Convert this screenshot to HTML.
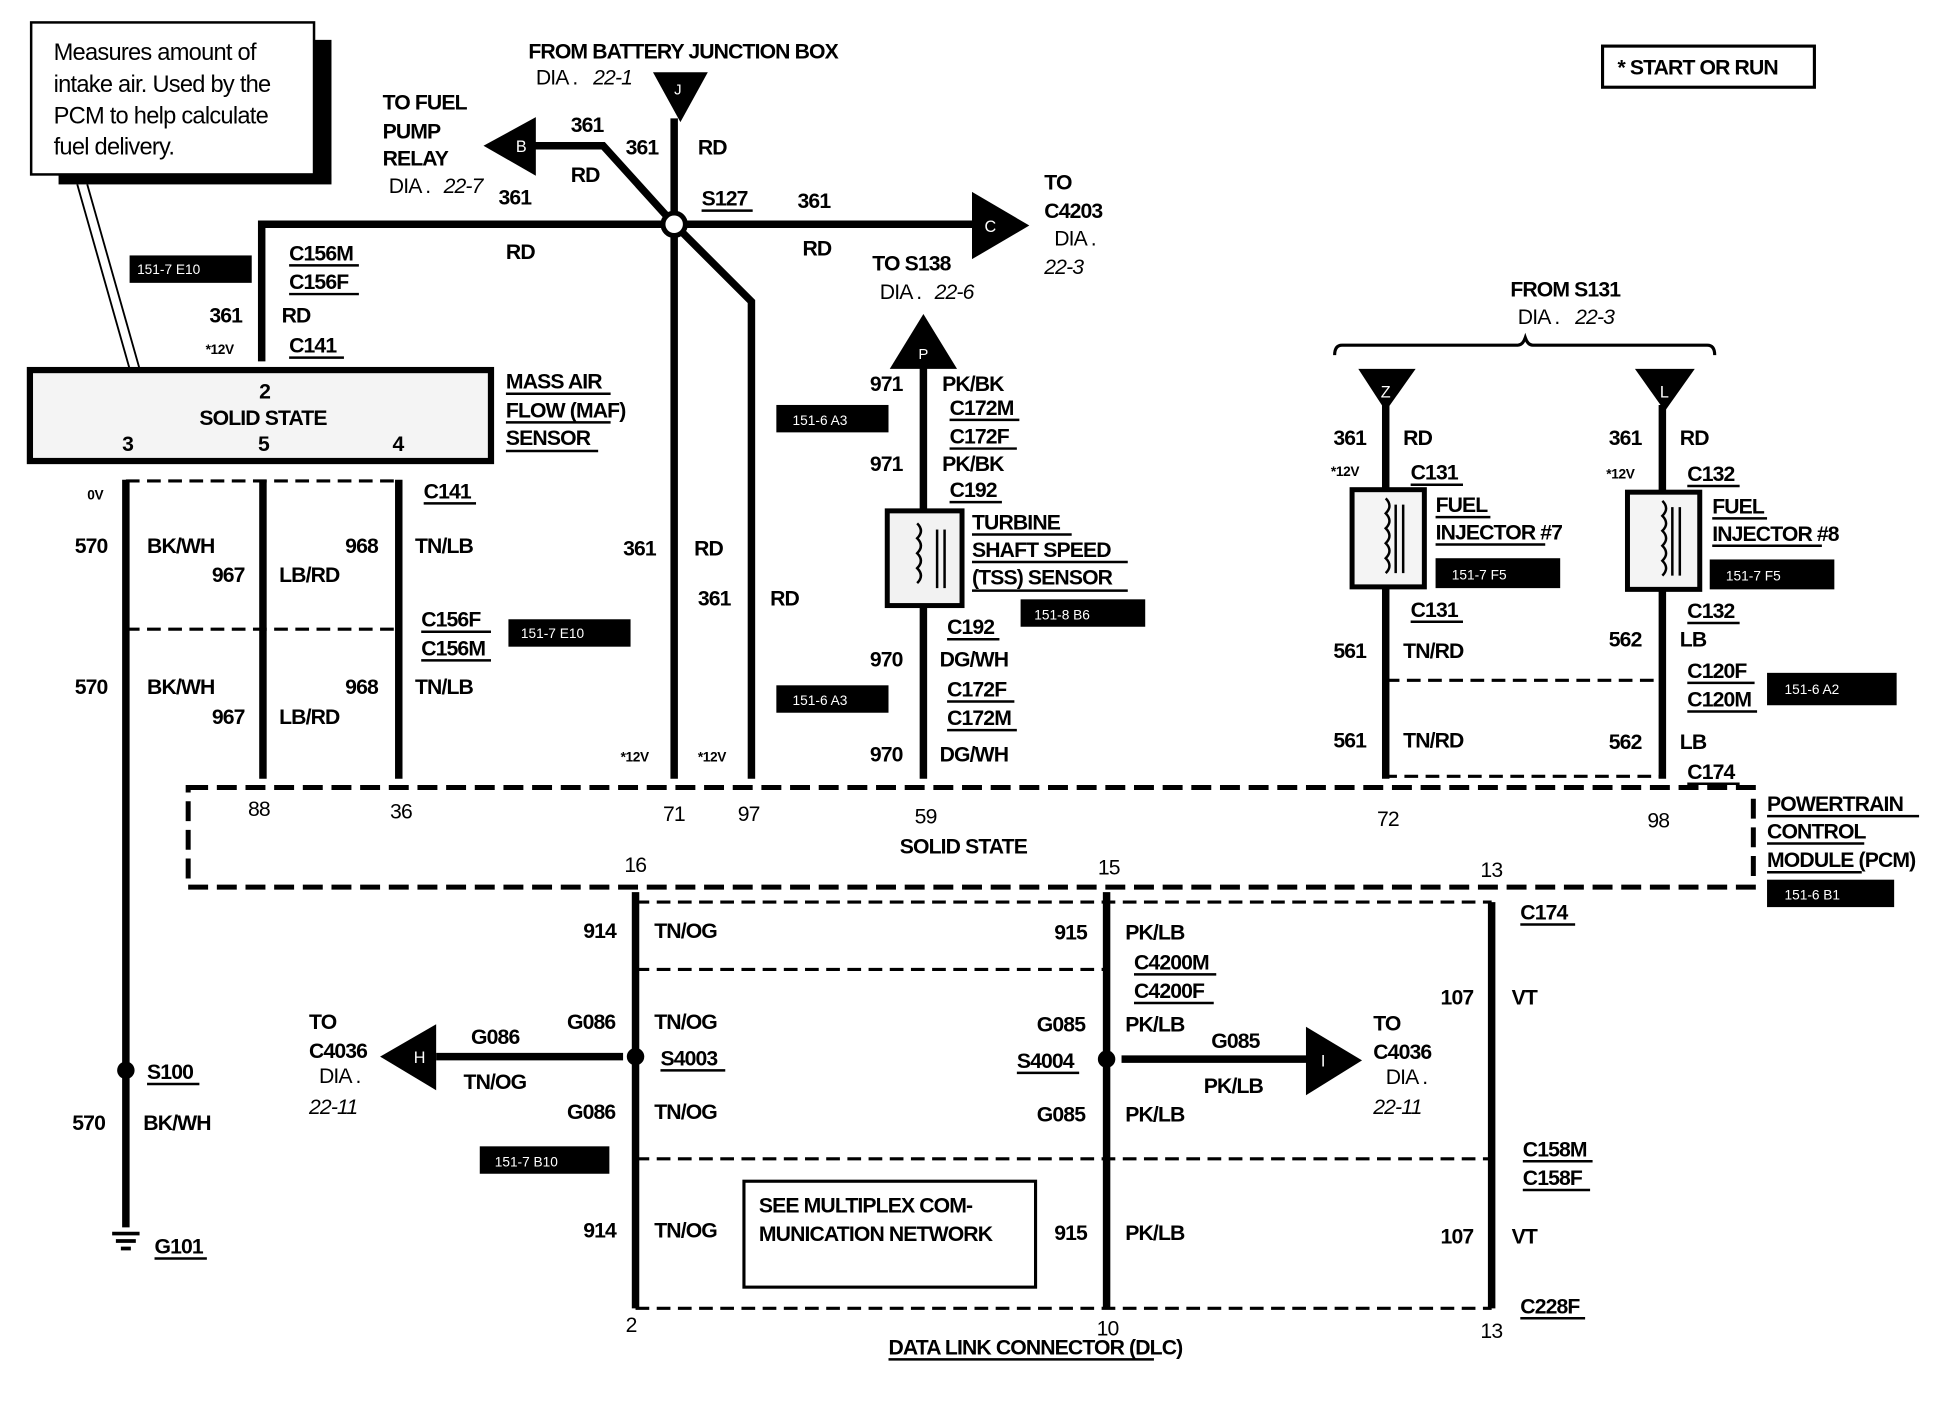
<!DOCTYPE html>
<html><head><meta charset="utf-8"><style>
html,body{margin:0;padding:0;background:#fff;width:1944px;height:1408px;overflow:hidden}
svg{display:block}
text{font-family:"Liberation Sans",Arial,sans-serif;font-weight:bold;font-size:17px;letter-spacing:-0.7px;fill:#000}
.n{font-weight:normal;font-size:19px;letter-spacing:-0.6px}
.s{font-size:11px;letter-spacing:-0.3px}
.it{font-style:italic;font-weight:normal}
.w{fill:#fff;font-weight:normal;font-size:11px;letter-spacing:0}
.wire{stroke:#000;stroke-width:6;fill:none}
.thin{stroke:#000;stroke-width:1.5;fill:none}
.dash{stroke:#000;stroke-width:2.5;stroke-dasharray:11 6;fill:none}
.pcm{stroke:#000;stroke-width:4;stroke-dasharray:16 7;fill:none}
.ul{stroke:#000;stroke-width:2}
</style></head><body>
<svg width="1944" height="1408" viewBox="0 0 1560 1130" preserveAspectRatio="none" xmlns="http://www.w3.org/2000/svg">
<rect width="1560" height="1130" fill="#fff"/>
<rect x="252" y="32" width="14" height="115" fill="#000"/>
<rect x="47" y="140" width="219" height="8" fill="#000"/>
<rect x="25" y="18" width="227" height="122" fill="#fff" stroke="#000" stroke-width="2"/>
<text class="n" x="43" y="48">Measures amount of</text>
<text class="n" x="43" y="74">intake air. Used by the</text>
<text class="n" x="43" y="99">PCM to help calculate</text>
<text class="n" x="43" y="124">fuel delivery.</text>
<line class="thin" x1="62" y1="148" x2="104" y2="296"/>
<line class="thin" x1="70" y1="148" x2="112" y2="296"/>
<rect x="1286" y="37" width="170" height="33" fill="#fff" stroke="#000" stroke-width="2.5"/>
<text x="1298" y="60">* START OR RUN</text>

<text x="424" y="47">FROM BATTERY JUNCTION BOX</text>
<text x="430" y="68" style="font-weight:normal">DIA .</text><text class="it" x="476" y="68">22-1</text>
<polygon points="524,58 568,58 546,98" fill="#000"/>
<text class="w" x="541" y="76" style="font-size:12px">J</text>
<line class="wire" x1="541" y1="95" x2="541" y2="625"/>
<polyline class="wire" points="541,180 484,117 418,117"/>
<polygon points="388,117 430,94 430,141" fill="#000"/>
<text class="w" x="414" y="122" style="font-size:13px">B</text>
<polyline class="wire" points="210,290 210,180 780,180"/>
<polygon points="826,181 780,154 780,208" fill="#000"/>
<text class="w" x="790" y="186" style="font-size:13px">C</text>
<polyline class="wire" points="541,180 603,242 603,625"/>
<circle cx="541" cy="180" r="9" fill="#fff" stroke="#000" stroke-width="4"/>
<text x="307" y="88">TO FUEL</text><text x="307" y="111">PUMP</text><text x="307" y="133">RELAY</text>
<text x="312" y="155" style="font-weight:normal">DIA .</text><text class="it" x="356" y="155">22-7</text>
<text x="400" y="164">361</text>
<text x="458" y="106">361</text><text x="458" y="146">RD</text>
<text x="502" y="124">361</text><text x="560" y="124">RD</text>
<text x="563" y="165">S127</text><line class="ul" x1="563" y1="169" x2="604" y2="169"/>
<text x="640" y="167">361</text><text x="644" y="205">RD</text>
<text x="406" y="208">RD</text>
<text x="838" y="152">TO</text><text x="838" y="175">C4203</text>
<text x="846" y="197" style="font-weight:normal">DIA .</text><text class="it" x="838" y="220">22-3</text>
<rect x="104" y="205" width="98" height="22" fill="#000"/><text class="w" x="110" y="220">151-7 E10</text>
<text x="232" y="209">C156M</text><line class="ul" x1="232" y1="213" x2="288" y2="213"/>
<text x="232" y="232">C156F</text><line class="ul" x1="232" y1="236" x2="288" y2="236"/>
<text x="168" y="259">361</text><text x="226" y="259">RD</text>
<text class="s" x="165" y="284">*12V</text>
<text x="232" y="283">C141</text><line class="ul" x1="232" y1="287" x2="276" y2="287"/>
<rect x="24" y="297" width="370" height="73" fill="#f4f4f4" stroke="#000" stroke-width="5"/>
<text x="208" y="320">2</text><text x="160" y="341">SOLID STATE</text>
<text x="98" y="362">3</text><text x="207" y="362">5</text><text x="315" y="362">4</text>
<text x="406" y="312">MASS AIR</text><text x="406" y="335">FLOW (MAF)</text><text x="406" y="357">SENSOR</text>
<line class="ul" x1="406" y1="316" x2="490" y2="316"/><line class="ul" x1="406" y1="339" x2="490" y2="339"/><line class="ul" x1="406" y1="362" x2="480" y2="362"/>
<line class="wire" x1="101" y1="385" x2="101" y2="985"/>
<line class="wire" x1="211" y1="385" x2="211" y2="625"/>
<line class="wire" x1="320" y1="385" x2="320" y2="625"/>
<line class="dash" x1="101" y1="386" x2="320" y2="386"/>
<line class="dash" x1="101" y1="505" x2="320" y2="505"/>
<text class="s" x="70" y="401">0V</text>
<text x="340" y="400">C141</text><line class="ul" x1="340" y1="404" x2="382" y2="404"/>
<text x="60" y="444">570</text><text x="118" y="444">BK/WH</text>
<text x="277" y="444">968</text><text x="333" y="444">TN/LB</text>
<text x="170" y="467">967</text><text x="224" y="467">LB/RD</text>
<text x="338" y="503">C156F</text><line class="ul" x1="338" y1="507" x2="394" y2="507"/>
<text x="338" y="526">C156M</text><line class="ul" x1="338" y1="530" x2="394" y2="530"/>
<rect x="408" y="497" width="98" height="22" fill="#000"/><text class="w" x="418" y="512">151-7 E10</text>
<text x="60" y="557">570</text><text x="118" y="557">BK/WH</text>
<text x="277" y="557">968</text><text x="333" y="557">TN/LB</text>
<text x="170" y="581">967</text><text x="224" y="581">LB/RD</text>
<text x="500" y="446">361</text><text x="557" y="446">RD</text>
<text x="560" y="486">361</text><text x="618" y="486">RD</text>
<text class="s" x="498" y="611">*12V</text><text class="s" x="560" y="611">*12V</text>
<text x="700" y="217">TO S138</text>
<text x="706" y="240" style="font-weight:normal">DIA .</text><text class="it" x="750" y="240">22-6</text>
<polygon points="741,252 768,296 714,296" fill="#000"/><text class="w" x="737" y="288" style="font-size:12px">P</text>
<line class="wire" x1="741" y1="295" x2="741" y2="625"/>
<rect x="623" y="325" width="90" height="22" fill="#000"/><text class="w" x="636" y="341">151-6 A3</text>
<text x="698" y="314">971</text><text x="756" y="314">PK/BK</text>
<text x="762" y="333">C172M</text><line class="ul" x1="762" y1="337" x2="818" y2="337"/>
<text x="762" y="356">C172F</text><line class="ul" x1="762" y1="360" x2="816" y2="360"/>
<text x="698" y="378">971</text><text x="756" y="378">PK/BK</text>
<text x="762" y="399">C192</text><line class="ul" x1="762" y1="403" x2="804" y2="403"/>
<rect x="712" y="410" width="60" height="76" fill="#f2f2f2" stroke="#000" stroke-width="4"/>
<path d="M736,420 q6,6 0,12 q6,6 0,12 q6,6 0,12 q6,6 0,12" stroke="#000" stroke-width="2" fill="none"/>
<line x1="752" y1="425" x2="752" y2="472" stroke="#000" stroke-width="2"/><line x1="758" y1="425" x2="758" y2="472" stroke="#000" stroke-width="2"/>
<text x="780" y="425">TURBINE</text><text x="780" y="447">SHAFT SPEED</text><text x="780" y="469">(TSS) SENSOR</text>
<line class="ul" x1="780" y1="429" x2="860" y2="429"/><line class="ul" x1="780" y1="451" x2="905" y2="451"/><line class="ul" x1="780" y1="474" x2="905" y2="474"/>
<rect x="819" y="481" width="100" height="22" fill="#000"/><text class="w" x="830" y="497">151-8 B6</text>
<text x="760" y="509">C192</text><line class="ul" x1="760" y1="513" x2="802" y2="513"/>
<text x="698" y="535">970</text><text x="754" y="535">DG/WH</text>
<rect x="623" y="550" width="90" height="22" fill="#000"/><text class="w" x="636" y="566">151-6 A3</text>
<text x="760" y="559">C172F</text><line class="ul" x1="760" y1="563" x2="814" y2="563"/>
<text x="760" y="582">C172M</text><line class="ul" x1="760" y1="586" x2="816" y2="586"/>
<text x="698" y="611">970</text><text x="754" y="611">DG/WH</text>
<text x="1212" y="238">FROM S131</text>
<text x="1218" y="260" style="font-weight:normal">DIA .</text><text class="it" x="1264" y="260">22-3</text>
<path d="M1071,285 q0,-8 6,-8 L1218,277 q4,0 6,-6 q2,6 6,6 L1370,277 q6,0 6,8" stroke="#000" stroke-width="2.5" fill="none"/>
<polygon points="1090,296 1136,296 1112,330" fill="#000"/><text class="w" x="1108" y="319" style="font-size:13px">Z</text>
<polygon points="1312,296 1360,296 1336,330" fill="#000"/><text class="w" x="1332" y="319" style="font-size:13px">L</text>
<line class="wire" x1="1112" y1="325" x2="1112" y2="625"/>
<line class="wire" x1="1334" y1="325" x2="1334" y2="625"/>
<rect x="1085" y="393" width="58" height="78" fill="#f4f4f4" stroke="#000" stroke-width="4"/>
<rect x="1306" y="395" width="58" height="78" fill="#f4f4f4" stroke="#000" stroke-width="4"/>
<path d="M1112,400 q6,6 0,12 q6,6 0,12 q6,6 0,12 q6,6 0,12 q6,6 0,12 M1334,402 q6,6 0,12 q6,6 0,12 q6,6 0,12 q6,6 0,12 q6,6 0,12" stroke="#000" stroke-width="2" fill="none"/>
<path d="M1120,405v55M1126,405v55M1342,407v55M1348,407v55" stroke="#000" stroke-width="2"/>
<text x="1070" y="357">361</text><text x="1126" y="357">RD</text>
<text x="1291" y="357">361</text><text x="1348" y="357">RD</text>
<text class="s" x="1068" y="382">*12V</text><text class="s" x="1289" y="384">*12V</text>
<text x="1132" y="385">C131</text><line class="ul" x1="1132" y1="389" x2="1174" y2="389"/>
<text x="1354" y="386">C132</text><line class="ul" x1="1354" y1="390" x2="1396" y2="390"/>
<text x="1152" y="411">FUEL</text><text x="1152" y="433">INJECTOR #7</text>
<line class="ul" x1="1152" y1="415" x2="1196" y2="415"/><line class="ul" x1="1152" y1="437" x2="1240" y2="437"/>
<text x="1374" y="412">FUEL</text><text x="1374" y="434">INJECTOR #8</text>
<line class="ul" x1="1374" y1="416" x2="1418" y2="416"/><line class="ul" x1="1374" y1="438" x2="1462" y2="438"/>
<rect x="1152" y="448" width="100" height="24" fill="#000"/><text class="w" x="1165" y="465">151-7 F5</text>
<rect x="1372" y="449" width="100" height="24" fill="#000"/><text class="w" x="1385" y="466">151-7 F5</text>
<text x="1132" y="495">C131</text><line class="ul" x1="1132" y1="499" x2="1174" y2="499"/>
<text x="1354" y="496">C132</text><line class="ul" x1="1354" y1="500" x2="1396" y2="500"/>
<text x="1070" y="528">561</text><text x="1126" y="528">TN/RD</text>
<text x="1291" y="519">562</text><text x="1348" y="519">LB</text>
<line class="dash" x1="1112" y1="546" x2="1334" y2="546"/>
<text x="1354" y="544">C120F</text><line class="ul" x1="1354" y1="548" x2="1408" y2="548"/>
<text x="1354" y="567">C120M</text><line class="ul" x1="1354" y1="571" x2="1410" y2="571"/>
<rect x="1418" y="540" width="104" height="26" fill="#000"/><text class="w" x="1432" y="557">151-6 A2</text>
<text x="1070" y="600">561</text><text x="1126" y="600">TN/RD</text>
<text x="1291" y="601">562</text><text x="1348" y="601">LB</text>
<text x="1354" y="625">C174</text><line class="ul" x1="1354" y1="629" x2="1396" y2="629"/>
<line class="dash" x1="1110" y1="623" x2="1334" y2="623"/>
<rect x="151" y="632" width="1256" height="80" class="pcm"/>
<text x="199" y="655" style="font-weight:normal">88</text><text x="313" y="657" style="font-weight:normal">36</text>
<text x="532" y="659" style="font-weight:normal">71</text><text x="592" y="659" style="font-weight:normal">97</text>
<text x="734" y="661" style="font-weight:normal">59</text><text x="1105" y="663" style="font-weight:normal">72</text>
<text x="1322" y="664" style="font-weight:normal">98</text>
<text x="722" y="685">SOLID STATE</text>
<text x="501" y="700" style="font-weight:normal">16</text><text x="881" y="702" style="font-weight:normal">15</text>
<text x="1188" y="704" style="font-weight:normal">13</text>
<text x="1418" y="651">POWERTRAIN</text><text x="1418" y="673">CONTROL</text><text x="1418" y="696">MODULE (PCM)</text>
<line class="ul" x1="1418" y1="655" x2="1540" y2="655"/><line class="ul" x1="1418" y1="677" x2="1496" y2="677"/><line class="ul" x1="1418" y1="700" x2="1494" y2="700"/>
<rect x="1418" y="706" width="102" height="22" fill="#000"/><text class="w" x="1432" y="722">151-6 B1</text>
<line class="wire" x1="510" y1="716" x2="510" y2="1050"/>
<line class="wire" x1="888" y1="716" x2="888" y2="1050"/>
<line class="wire" x1="1197" y1="724" x2="1197" y2="1050"/>
<line class="dash" x1="510" y1="724" x2="1197" y2="724"/>
<line class="dash" x1="510" y1="778" x2="888" y2="778"/>
<line class="dash" x1="510" y1="930" x2="1197" y2="930"/>
<line class="dash" x1="510" y1="1050" x2="1197" y2="1050"/>
<text x="1220" y="738">C174</text><line class="ul" x1="1220" y1="742" x2="1264" y2="742"/>
<text x="468" y="753">914</text><text x="525" y="753">TN/OG</text>
<text x="846" y="754">915</text><text x="903" y="754">PK/LB</text>
<text x="910" y="778">C4200M</text><line class="ul" x1="910" y1="782" x2="976" y2="782"/>
<text x="910" y="801">C4200F</text><line class="ul" x1="910" y1="805" x2="974" y2="805"/>
<text x="1156" y="806">107</text><text x="1213" y="806">VT</text>
<text x="455" y="826">G086</text><text x="525" y="826">TN/OG</text>
<text x="832" y="828">G085</text><text x="903" y="828">PK/LB</text>
<line class="wire" x1="500" y1="848" x2="350" y2="848"/>
<polygon points="305,848 350,822 350,875" fill="#000"/><text class="w" x="332" y="853" style="font-size:13px">H</text>
<circle cx="510" cy="848" r="7" fill="#000"/>
<text x="378" y="838">G086</text><text x="372" y="874">TN/OG</text>
<text x="530" y="855">S4003</text><line class="ul" x1="530" y1="859" x2="582" y2="859"/>
<text x="248" y="826">TO</text><text x="248" y="849">C4036</text>
<text x="256" y="869" style="font-weight:normal">DIA .</text><text class="it" x="248" y="894">22-11</text>
<line class="wire" x1="900" y1="850" x2="1050" y2="850"/>
<polygon points="1093,851 1048,824 1048,879" fill="#000"/><text class="w" x="1060" y="856" style="font-size:13px">I</text>
<circle cx="888" cy="850" r="7" fill="#000"/>
<text x="816" y="857">S4004</text><line class="ul" x1="816" y1="861" x2="866" y2="861"/>
<text x="972" y="841">G085</text><text x="966" y="877">PK/LB</text>
<text x="1102" y="827">TO</text><text x="1102" y="850">C4036</text>
<text x="1112" y="870" style="font-weight:normal">DIA .</text><text class="it" x="1102" y="894">22-11</text>
<text x="455" y="898">G086</text><text x="525" y="898">TN/OG</text>
<text x="832" y="900">G085</text><text x="903" y="900">PK/LB</text>
<rect x="385" y="920" width="104" height="22" fill="#000"/><text class="w" x="397" y="936">151-7 B10</text>
<text x="1222" y="928">C158M</text><line class="ul" x1="1222" y1="932" x2="1278" y2="932"/>
<text x="1222" y="951">C158F</text><line class="ul" x1="1222" y1="955" x2="1276" y2="955"/>
<rect x="597" y="948" width="234" height="85" fill="#fff" stroke="#000" stroke-width="2.5"/>
<text x="609" y="973">SEE MULTIPLEX COM-</text><text x="609" y="996">MUNICATION NETWORK</text>
<text x="468" y="993">914</text><text x="525" y="993">TN/OG</text>
<text x="846" y="995">915</text><text x="903" y="995">PK/LB</text>
<text x="1156" y="998">107</text><text x="1213" y="998">VT</text>
<text x="1220" y="1054">C228F</text><line class="ul" x1="1220" y1="1058" x2="1272" y2="1058"/>
<text x="502" y="1069" style="font-weight:normal">2</text><text x="880" y="1072" style="font-weight:normal">10</text>
<text x="1188" y="1074" style="font-weight:normal">13</text>
<text x="713" y="1087">DATA LINK CONNECTOR (DLC)</text><line class="ul" x1="713" y1="1091" x2="926" y2="1091"/>
<circle cx="101" cy="859" r="7" fill="#000"/>
<text x="118" y="866">S100</text><line class="ul" x1="118" y1="870" x2="160" y2="870"/>
<text x="58" y="907">570</text><text x="115" y="907">BK/WH</text>
<path d="M90,990 h22 M93,996 h16 M97,1002 h8" stroke="#000" stroke-width="3"/>
<text x="124" y="1006">G101</text><line class="ul" x1="124" y1="1010" x2="166" y2="1010"/>
</svg>
</body></html>
